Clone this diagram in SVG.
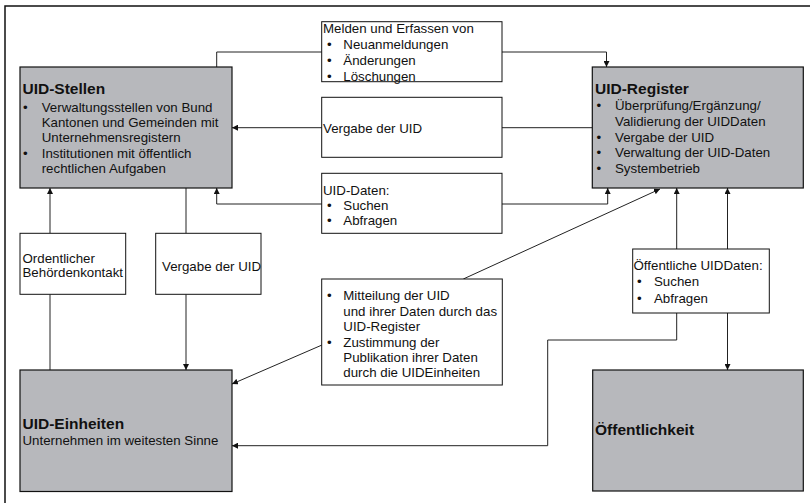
<svg xmlns="http://www.w3.org/2000/svg" width="810" height="503" viewBox="0 0 810 503">
<defs>
<marker id="ah" viewBox="0 0 10 10" refX="10" refY="5" markerWidth="6" markerHeight="6" orient="auto" markerUnits="userSpaceOnUse">
<path d="M0,0 L10,5 L0,10 z" fill="#111"/>
</marker>
<style>
.main{fill:#b7b8bc;stroke:#111;stroke-width:1.2}
.lbl{fill:#fff;stroke:#111;stroke-width:1}
text{font-family:"Liberation Sans",Arial,sans-serif;font-size:13.3px;fill:#111}
.t{font-weight:bold;font-size:15.5px}
.c{fill:none;stroke:#222;stroke-width:1}
.a{marker-end:url(#ah)}
</style>
</defs>
<rect width="810" height="503" fill="#fff"/>
<path d="M5,503 V6 H810" fill="none" stroke="#111" stroke-width="1.5"/>

<g id="connectors">
<path class="c" d="M216.7,67 V52 H322"/>
<path class="c a" d="M502,52 H606.5 V67"/>
<path class="c" d="M592,127.7 H502"/>
<path class="c a" d="M322,127.7 H232"/>
<path class="c a" d="M322,204 H216.7 V188"/>
<path class="c a" d="M502,204 H607.7 V188"/>
<path class="c a" d="M463.3,279 L660,189"/>
<path class="c a" d="M322,345 L232,384"/>
<path class="c a" d="M50,233.3 V188"/>
<path class="c" d="M50,294.3 V370"/>
<path class="c" d="M186,188 V233.3"/>
<path class="c a" d="M186,294.3 V370"/>
<path class="c a" d="M676.7,249 V188"/>
<path class="c a" d="M727.5,249 V188"/>
<path class="c a" d="M676.7,313 V340 H547.7 V445.7 H232"/>
<path class="c a" d="M727.5,313 V370"/>
</g>

<g id="uid-stellen">
<rect class="main" x="20" y="67" width="212" height="121"/>
<text class="t" x="22.5" y="94">UID-Stellen</text>
<text x="23" y="111.5">•</text><text x="41.7" y="111.5">Verwaltungsstellen von Bund</text>
<text x="41.7" y="127">Kantonen und Gemeinden mit</text>
<text x="41.7" y="142.3">Unternehmensregistern</text>
<text x="23" y="158">•</text><text x="41.7" y="158">Institutionen mit öffentlich</text>
<text x="41.7" y="172.5">rechtlichen Aufgaben</text>
</g>

<g id="uid-register">
<rect class="main" x="592.3" y="67" width="211" height="121"/>
<text class="t" x="595" y="94">UID-Register</text>
<text x="596.5" y="110">•</text><text x="615" y="110">Überprüfung/Ergänzung/</text>
<text x="615" y="125.5">Validierung der UIDDaten</text>
<text x="596.5" y="141.5">•</text><text x="615" y="141.5">Vergabe der UID</text>
<text x="596.5" y="157.3">•</text><text x="615" y="157.3">Verwaltung der UID-Daten</text>
<text x="596.5" y="173">•</text><text x="615" y="173">Systembetrieb</text>
</g>

<g id="uid-einheiten">
<rect class="main" x="20" y="370" width="212" height="121.5"/>
<text class="t" x="22.5" y="428.5">UID-Einheiten</text>
<text x="22.5" y="444.6">Unternehmen im weitesten Sinne</text>
</g>

<g id="oeffentlichkeit">
<rect class="main" x="592.7" y="370" width="210.6" height="121"/>
<text class="t" x="595" y="434.5">Öffentlichkeit</text>
</g>

<g id="melden">
<rect class="lbl" x="321.7" y="21.7" width="180.3" height="60"/>
<text x="323" y="33">Melden und Erfassen von</text>
<text x="327" y="49">•</text><text x="343.3" y="49">Neuanmeldungen</text>
<text x="327" y="65.3">•</text><text x="343.3" y="65.3">Änderungen</text>
<text x="327" y="80.7">•</text><text x="343.3" y="80.7">Löschungen</text>
</g>

<g id="vergabe-mitte">
<rect class="lbl" x="321.7" y="97.3" width="180.3" height="60"/>
<text x="323" y="133">Vergabe der UID</text>
</g>

<g id="uid-daten">
<rect class="lbl" x="321.7" y="173.3" width="180.3" height="60"/>
<text x="323" y="194.7">UID-Daten:</text>
<text x="327" y="209.7">•</text><text x="343.3" y="209.7">Suchen</text>
<text x="327" y="225.4">•</text><text x="343.3" y="225.4">Abfragen</text>
</g>

<g id="mitteilung">
<rect class="lbl" x="321.7" y="279" width="180.6" height="106"/>
<text x="327" y="299.7">•</text><text x="343.3" y="299.7">Mitteilung der UID</text>
<text x="343.3" y="315.7">und ihrer Daten durch das</text>
<text x="343.3" y="330.7">UID-Register</text>
<text x="327" y="347.4">•</text><text x="343.3" y="347.4">Zustimmung der</text>
<text x="343.3" y="362.4">Publikation ihrer Daten</text>
<text x="343.3" y="377.4">durch die UIDEinheiten</text>
</g>

<g id="ordentlicher">
<rect class="lbl" x="20" y="233.3" width="105.7" height="61"/>
<text x="22.5" y="263">Ordentlicher</text>
<text x="22.5" y="277.4">Behördenkontakt</text>
</g>

<g id="vergabe-links">
<rect class="lbl" x="155.7" y="233.3" width="105.3" height="61"/>
<text x="162" y="270.7">Vergabe der UID</text>
</g>

<g id="oeffentliche-daten">
<rect class="lbl" x="632.7" y="249" width="136.6" height="64"/>
<text x="633.5" y="269.7">Öffentliche UIDDaten:</text>
<text x="637" y="286.4">•</text><text x="654" y="286.4">Suchen</text>
<text x="637" y="302.7">•</text><text x="654" y="302.7">Abfragen</text>
</g>
</svg>
